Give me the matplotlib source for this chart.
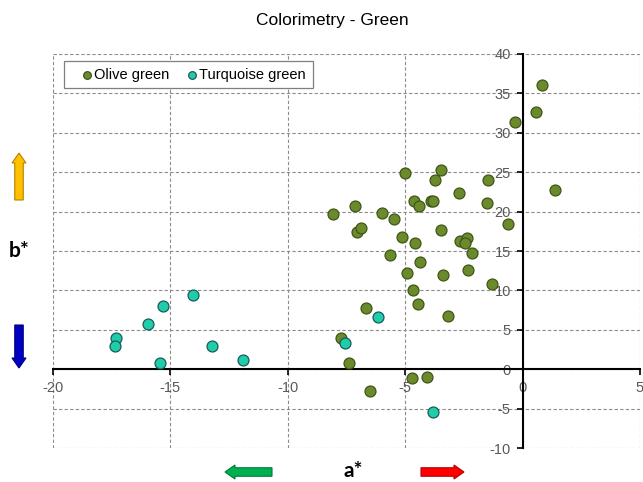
import matplotlib.pyplot as plt
from matplotlib.patches import FancyArrow

# Coordenadas a*, b* de cada muestra
olive_a = [0.84, 0.58, -0.31, 1.38, -5.01, -3.49, -3.73, -1.49, -2.72, -4.63,
           -4.40, -3.90, -3.83, -1.50, -0.63, -3.48, -8.06, -7.12, -5.97, -5.48,
           -7.05, -6.88, -5.14, -4.58, -2.67, -2.38, -2.45, -5.63, -2.17, -4.37,
           -4.94, -3.38, -2.34, -1.30, -4.66, -4.47, -3.18, -6.68, -7.73, -7.38,
           -4.72, -4.07, -6.49]
olive_b = [36.1, 32.7, 31.4, 22.8, 24.9, 25.3, 24.0, 24.0, 22.4, 21.4,
           20.7, 21.4, 21.4, 21.1, 18.4, 17.7, 19.7, 20.7, 19.8, 19.0,
           17.4, 17.9, 16.8, 16.0, 16.3, 16.6, 16.0, 14.5, 14.7, 13.6,
           12.2, 12.0, 12.6, 10.8, 10.0, 8.3, 6.8, 7.8, 4.0, 0.8,
           -1.1, -1.0, -2.75]

turq_a = [-6.15, -7.56, -3.83, -14.04, -15.33, -15.97, -17.33, -17.35, -13.22,
          -15.46, -11.92]
turq_b = [6.6, 3.3, -5.45, 9.4, 8.0, 5.7, 4.0, 2.95, 3.0, 0.84, 1.14]

x_ticks = [-20, -15, -10, -5, 0, 5]
y_ticks = [-10, -5, 0, 5, 10, 15, 20, 25, 30, 35, 40]

plt.rcParams['font.family'] = ['Liberation Sans', 'DejaVu Sans']
plt.rcParams['axes.unicode_minus'] = False

fig = plt.figure(figsize=(6.43, 4.82), dpi=100)
ax = fig.add_axes([0.0824, 0.0705, 0.9129, 0.8175])

ax.scatter(olive_a, olive_b, s=62, c='#6b8a2c', edgecolors='#3f5618',
           linewidths=0.9, zorder=3, label='Olive green')
ax.scatter(turq_a, turq_b, s=62, c='#1fcda8', edgecolors='#1b5a5a',
           linewidths=0.9, zorder=3, label='Turquoise green')

ax.set_xlim(-20, 5)
ax.set_ylim(-10, 40)
ax.set_xticks(x_ticks)
ax.set_yticks(y_ticks)

# ejes cruzando en el origen
ax.spines['left'].set_position(('data', 0))
ax.spines['bottom'].set_position(('data', 0))
ax.spines['top'].set_visible(False)
ax.spines['right'].set_visible(False)
for s in ['left', 'bottom']:
    ax.spines[s].set_linewidth(1.5)
    ax.spines[s].set_color('black')

ax.tick_params(axis='both', colors='black', labelcolor='#595959',
               labelsize=10.5, length=4.5, width=1.2, direction='out', pad=4)
ax.grid(True, color='#8c8c8c', linestyle=(0, (3, 2)), linewidth=0.8)

leg = ax.legend(loc='upper left', bbox_to_anchor=(0.019, 0.982),
                borderaxespad=0, ncol=2, fontsize=10.5, frameon=True,
                fancybox=False, framealpha=1, edgecolor='#7f7f7f',
                handlelength=2.25, handletextpad=-0.64, columnspacing=0.45,
                markerscale=0.7, borderpad=0.45)
leg.get_frame().set_linewidth(0.9)

fig.text(332 / 643, 1 - 20 / 482, 'Colorimetry - Green', ha='center',
         va='center', fontsize=12.5)

# flechas de direccion de color (en pulgadas)
tr = fig.dpi_scale_trans
arrows = [
    (0.19, 2.82, 0, 0.47, '#ffc000', '#b08400'),
    (0.19, 1.57, 0, -0.43, '#0000c0', '#000080'),
    (2.72, 0.10, -0.47, 0, '#00b050', '#007a38'),
    (4.21, 0.10, 0.43, 0, '#ff0000', '#b00000'),
]
for x0, y0, dx, dy, fc, ec in arrows:
    fig.patches.append(FancyArrow(x0, y0, dx, dy, width=0.085,
                                  head_width=0.14, head_length=0.1,
                                  length_includes_head=True, transform=tr,
                                  facecolor=fc, edgecolor=ec, linewidth=0.8))

fig.text(19 / 643, 1 - 251 / 482, 'b*', ha='center', va='center',
         fontsize=15, fontweight='bold', family=['Lato', 'DejaVu Sans'])
fig.text(353 / 643, 1 - 471 / 482, 'a*', ha='center', va='center',
         fontsize=15, fontweight='bold', family=['Lato', 'DejaVu Sans'])

fig.savefig('out.png', dpi=100)
